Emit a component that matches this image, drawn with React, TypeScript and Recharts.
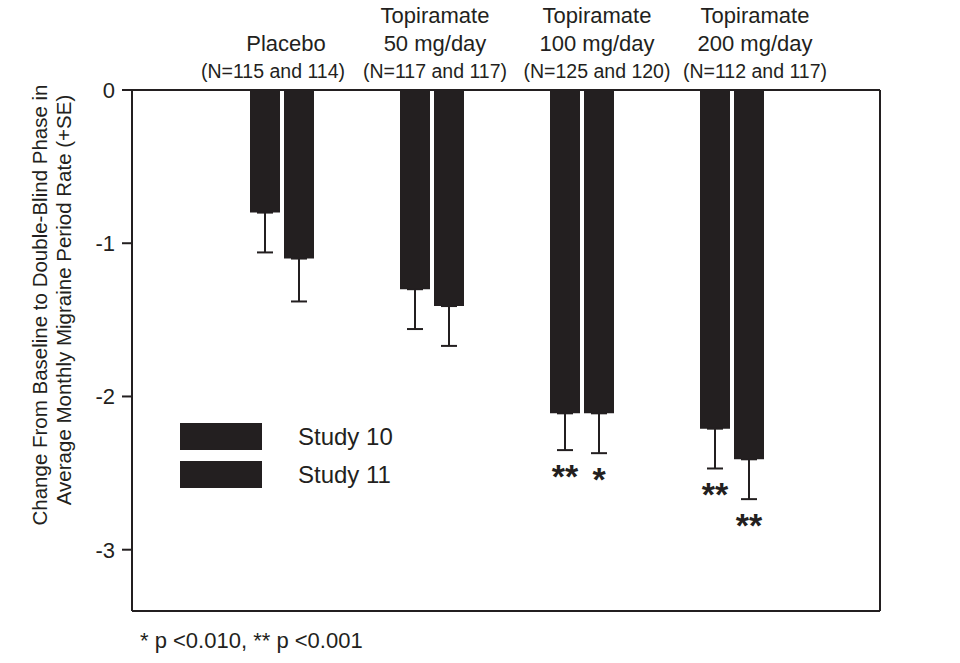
import { BarChart, Bar, XAxis, YAxis, ErrorBar, LabelList, Legend } from 'recharts';

const INK = '#231f20';
const FONT = '"Liberation Sans", Arial, sans-serif';

// groups along the x axis
const groups = ['Placebo', 'Topiramate 50', 'Topiramate 100', 'Topiramate 200'];
const groupName = ['Placebo', 'Topiramate', 'Topiramate', 'Topiramate'];
const doseLabels = ['', '50 mg/day', '100 mg/day', '200 mg/day'];
const nLabels = ['(N=115 and 114)', '(N=117 and 117)', '(N=125 and 120)', '(N=112 and 117)'];

// mean change from baseline, and SE
const study10 = [-0.8, -1.3, -2.11, -2.21];
const study11 = [-1.1, -1.41, -2.11, -2.41];
const se10 = [0.26, 0.26, 0.24, 0.26];
const se11 = [0.28, 0.26, 0.26, 0.26];
const sig10 = ['', '', '**', '**'];
const sig11 = ['', '', '*', '**'];

const yTicks = [0, -1, -2, -3];

// small horizontal nudges for the header text (it isn't centred on the bars in the original)
const nameShift = [4, 3, 15, 23];
const nShift = [-9, 3, 15, 23];

const data = groups.map((g, i) => ({
  group: g,
  s10: study10[i],
  s11: study11[i],
  e10: [se10[i], 0],
  e11: [se11[i], 0],
  sig10: sig10[i],
  sig11: sig11[i],
}));

function GroupTick(props: any) {
  const { x, index } = props;
  const cx = x + nameShift[index];
  const hasDose = doseLabels[index] !== '';
  return (
    <g fontFamily={FONT} fill={INK} textAnchor="middle">
      {hasDose && (
        <text x={cx} y={23} fontSize={22} fill={INK}>{groupName[index]}</text>
      )}
      <text x={cx} y={51} fontSize={22} fill={INK}>
        {hasDose ? doseLabels[index] : groupName[index]}
      </text>
      <text x={x + nShift[index]} y={78} fontSize={19.5} fill={INK}>{nLabels[index]}</text>
    </g>
  );
}

const makeStars = (values: number[], se: number[]) => (props: any) => {
  const vb = props.viewBox ?? props;
  const { value, index } = props;
  if (!value) return null;
  const top = Number(vb.y);
  const h = Number(vb.height);
  const bottom = Math.max(top, top + h);
  const ppu = Math.abs(h) / Math.abs(values[index]);
  const end = bottom + se[index] * ppu;
  return (
    <text
      x={vb.x + vb.width / 2}
      y={end + 38}
      textAnchor="middle"
      fontSize={34}
      fontWeight="bold"
      fontFamily={FONT}
      fill={INK}
    >
      {value}
    </text>
  );
};

function YTitle() {
  return (
    <g fontFamily={FONT} fontSize={20.5} fill={INK} textAnchor="middle">
      <text x={39} y={305} transform="rotate(-90 39 305)" dominantBaseline="central" fill={INK}>
        Change From Baseline to Double-Blind Phase in
      </text>
      <text x={63} y={300} transform="rotate(-90 63 300)" dominantBaseline="central" fill={INK}>
        Average Monthly Migraine Period Rate (+SE)
      </text>
    </g>
  );
}

function Footnote() {
  return (
    <text x={140} y={648} fontFamily={FONT} fontSize={22} fill={INK}>
      * p &lt;0.010, ** p &lt;0.001
    </text>
  );
}

function LegendBox() {
  const rows = ['Study 10', 'Study 11'];
  return (
    <div style={{ fontFamily: FONT, color: INK }}>
      {rows.map((r, i) => (
        <div key={r} style={{ display: 'flex', alignItems: 'center', height: 27, marginBottom: i === 0 ? 11 : 0 }}>
          <div style={{ width: 82, height: 27, background: INK }} />
          <span style={{ marginLeft: 36, fontSize: 24, lineHeight: '27px' }}>{r}</span>
        </div>
      ))}
    </div>
  );
}

export default function App() {
  return (
    <div style={{ position: 'absolute', left: 0, top: 0, width: 960, height: 663, background: '#fff' }}>
      <BarChart
        width={960}
        height={663}
        data={data}
        margin={{ top: 0, right: 79, bottom: 51, left: 0 }}
        barSize={30}
        barGap={4}
      >
        <XAxis
          xAxisId="top"
          dataKey="group"
          orientation="top"
          height={90}
          padding={{ left: 75, right: 73 }}
          axisLine={{ stroke: INK, strokeWidth: 2 }}
          tickLine={false}
          tick={<GroupTick />}
          interval={0}
        />
        <XAxis
          xAxisId="bottom"
          dataKey="group"
          orientation="bottom"
          height={1}
          axisLine={{ stroke: INK, strokeWidth: 2 }}
          tickLine={false}
          tick={false}
          label={{ content: () => <Footnote /> }}
        />
        <YAxis
          yAxisId="left"
          width={132}
          domain={[-3.4, 0]}
          ticks={yTicks}
          allowDataOverflow
          axisLine={{ stroke: INK, strokeWidth: 2 }}
          tickLine={{ stroke: INK, strokeWidth: 2 }}
          tickSize={10}
          tickMargin={7}
          tick={{ fill: INK, fontSize: 22, fontFamily: FONT }}
          label={{ content: () => <YTitle /> }}
        />
        <YAxis
          yAxisId="right"
          orientation="right"
          width={1}
          domain={[-3.4, 0]}
          axisLine={{ stroke: INK, strokeWidth: 2 }}
          tickLine={false}
          tick={false}
        />
        <Legend
          layout="horizontal"
          verticalAlign="middle"
          align="center"
          wrapperStyle={{ position: 'absolute', left: 180, top: 423, width: 'auto' }}
          content={() => <LegendBox />}
        />
        <Bar dataKey="s10" name="Study 10" xAxisId="top" yAxisId="left" fill={INK} isAnimationActive={false}>
          <ErrorBar dataKey="e10" direction="y" width={8} stroke={INK} strokeWidth={2} isAnimationActive={false} />
          <LabelList dataKey="sig10" content={makeStars(study10, se10)} />
        </Bar>
        <Bar dataKey="s11" name="Study 11" xAxisId="top" yAxisId="left" fill={INK} isAnimationActive={false}>
          <ErrorBar dataKey="e11" direction="y" width={8} stroke={INK} strokeWidth={2} isAnimationActive={false} />
          <LabelList dataKey="sig11" content={makeStars(study11, se11)} />
        </Bar>
      </BarChart>
    </div>
  );
}
